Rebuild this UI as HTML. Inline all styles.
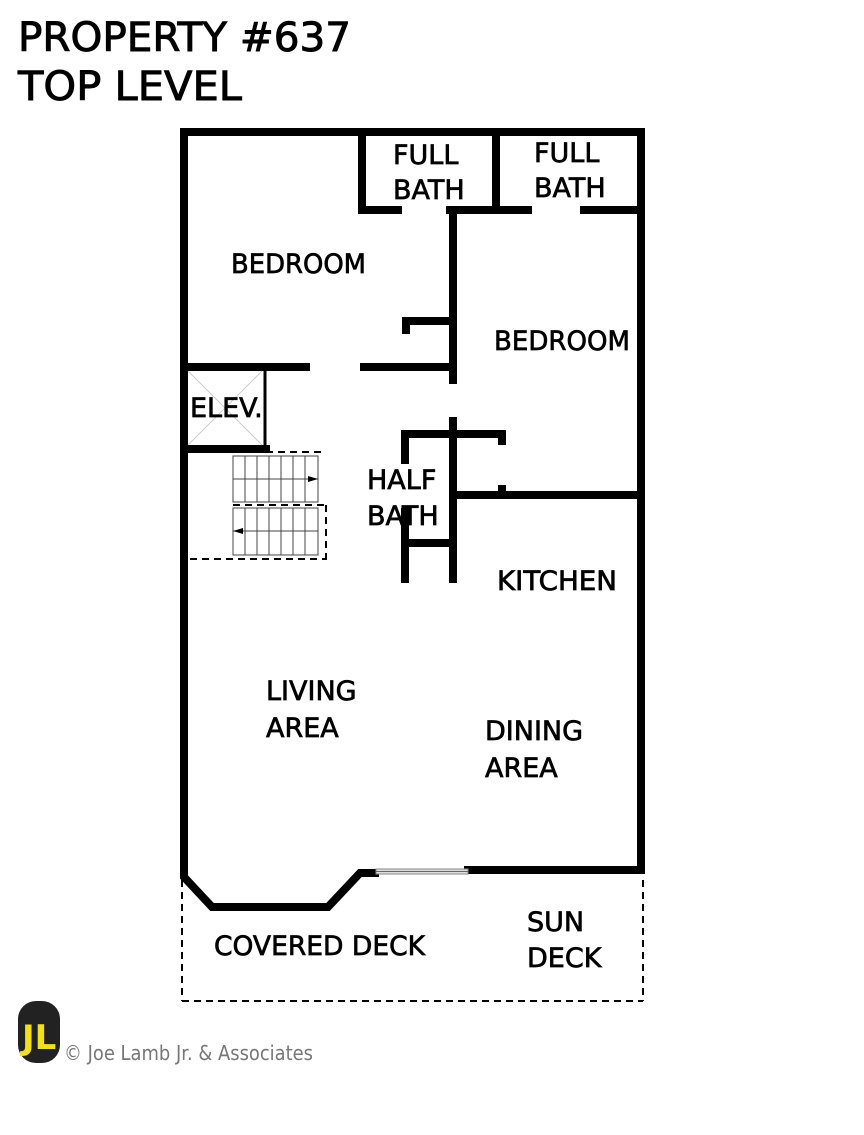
<!DOCTYPE html>
<html><head><style>
html,body{margin:0;padding:0;background:#fff;}
svg{display:block;}
text{font-family:"DejaVu Sans","Liberation Sans",sans-serif;}
</style></head><body>
<svg width="864" height="1135" viewBox="0 0 864 1135" xmlns="http://www.w3.org/2000/svg">
<g stroke="#000" stroke-width="0.9" fill="#000">
<text x="18" y="51" font-size="40" textLength="333" lengthAdjust="spacingAndGlyphs">PROPERTY #637</text>
<text x="18" y="100" font-size="40" textLength="224" lengthAdjust="spacingAndGlyphs">TOP LEVEL</text>
</g>
<g stroke="#000" stroke-width="8" fill="none" stroke-linecap="square">
<polyline points="375,873 360,873 328,907 212,907 184,877 184,132 641,132 641,870 468,870" stroke-linejoin="miter"/>
<polyline points="362,132 362,210 398,210"/>
<line x1="496" y1="132" x2="496" y2="210"/>
<line x1="450" y1="210" x2="528" y2="210"/>
<line x1="584" y1="210" x2="641" y2="210"/>
<line x1="453" y1="210" x2="453" y2="380"/>
<polyline points="406,330 406,321 453,321"/>
<line x1="188" y1="367" x2="306" y2="367"/>
<line x1="364" y1="367" x2="453" y2="367"/>
<line x1="188" y1="449" x2="266" y2="449"/>
<line x1="265" y1="367" x2="265" y2="449" stroke-width="3"/>
<line x1="453" y1="421" x2="453" y2="579"/>
<polyline points="405,460 405,434 502,434 502,441"/>
<line x1="453" y1="495" x2="641" y2="495"/>
<line x1="502" y1="489" x2="502" y2="495"/>
<line x1="405" y1="512" x2="405" y2="579"/>
<line x1="405" y1="543" x2="453" y2="543"/>
</g>
<rect x="376" y="869" width="92" height="5" fill="#ddd" stroke="#888" stroke-width="1"/>
<line x1="376" y1="871.5" x2="468" y2="871.5" stroke="#666" stroke-width="1"/>
<g stroke="#ccc" stroke-width="1">
<line x1="188" y1="371" x2="262" y2="445"/><line x1="262" y1="371" x2="188" y2="445"/>
</g>
<g stroke="#000" stroke-width="2" stroke-dasharray="7,5" fill="none">
<line x1="266" y1="452" x2="322" y2="452"/>
<line x1="233" y1="505" x2="326" y2="505"/>
<line x1="326" y1="505" x2="326" y2="560"/>
<line x1="190" y1="559" x2="326" y2="559"/>
<line x1="182" y1="880" x2="182" y2="1001"/>
<line x1="182" y1="1001" x2="643" y2="1001"/>
<line x1="643" y1="880" x2="643" y2="1001"/>
</g>
<g stroke="#444" stroke-width="1" fill="none">
<rect x="233" y="456" width="85" height="46"/>
<rect x="233" y="508" width="85" height="47"/>
<path d="M245,456V502M257,456V502M269,456V502M281,456V502M293,456V502M305,456V502M233,479H318"/>
<path d="M245,508V555M257,508V555M269,508V555M281,508V555M293,508V555M305,508V555M233,531H318"/>
</g>
<path d="M318,479l-10,-3v6z" fill="#000"/>
<path d="M233,531l10,-3v6z" fill="#000"/>
<g font-size="27" fill="#000" stroke="#000" stroke-width="0.7">
<text x="393" y="164">FULL</text><text x="393" y="199">BATH</text>
<text x="534" y="162">FULL</text><text x="534" y="197">BATH</text>
<text x="231" y="273" textLength="135" lengthAdjust="spacingAndGlyphs">BEDROOM</text>
<text x="494" y="350" textLength="136" lengthAdjust="spacingAndGlyphs">BEDROOM</text>
<text x="190" y="417">ELEV.</text>
<text x="367" y="489">HALF</text><text x="367" y="525">BATH</text>
<text x="497" y="590" textLength="120" lengthAdjust="spacingAndGlyphs">KITCHEN</text>
<text x="266" y="700">LIVING</text><text x="266" y="737">AREA</text>
<text x="485" y="740">DINING</text><text x="485" y="777">AREA</text>
<text x="214" y="955" textLength="211" lengthAdjust="spacingAndGlyphs">COVERED DECK</text>
<text x="527" y="931">SUN</text><text x="527" y="967">DECK</text>
</g>
<rect x="18" y="1001" width="42" height="62" rx="18" fill="#222"/>
<text x="22" y="1049" font-size="34" font-weight="bold" fill="#f2e01a" font-family="Liberation Sans">JL</text>
<text x="64" y="1060" font-size="20" fill="#777" font-family="Liberation Sans" textLength="249" lengthAdjust="spacingAndGlyphs">© Joe Lamb Jr. &amp; Associates</text>
</svg>
</body></html>
